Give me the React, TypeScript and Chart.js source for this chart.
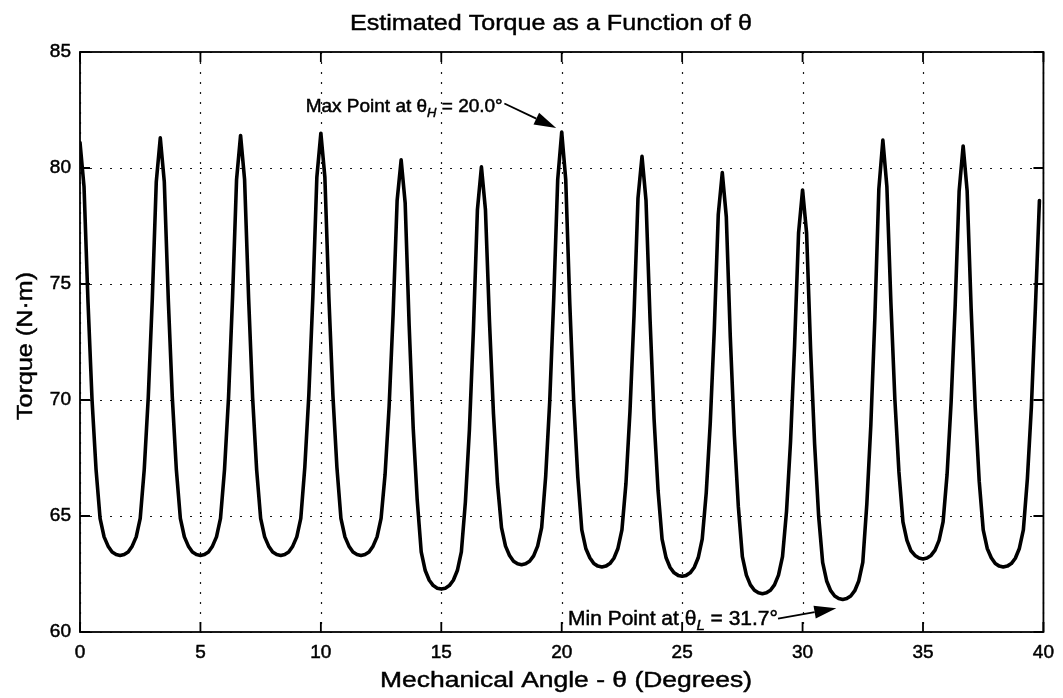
import React, { useEffect, useRef } from "react";
import { Chart, registerables } from "chart.js";

Chart.register(...registerables);

// ---------------- DATA ----------------
// Samples are taken every 1/6 degree of mechanical angle, starting at 0°.
const ANGLE_STEP_DEG = 1 / 6;

// Torque (N·m), one array per electrical period (20 samples each)
const torquePeriod01 = [81.1, 79.2, 74.2, 70.0, 67.0, 64.9, 64.1, 63.7, 63.45, 63.34, 63.3, 63.34, 63.45, 63.7, 64.1, 64.9, 67.0, 70.1, 74.3, 79.4];
const torquePeriod02 = [81.3, 79.4, 74.3, 70.1, 67.0, 64.9, 64.1, 63.7, 63.45, 63.34, 63.3, 63.34, 63.45, 63.7, 64.1, 64.9, 67.0, 70.1, 74.4, 79.5];
const torquePeriod03 = [81.4, 79.5, 74.4, 70.1, 67.0, 64.9, 64.1, 63.7, 63.45, 63.34, 63.3, 63.34, 63.45, 63.7, 64.1, 64.9, 67.1, 70.2, 74.4, 79.6];
const torquePeriod04 = [81.5, 79.6, 74.4, 70.2, 67.1, 64.9, 64.1, 63.7, 63.45, 63.34, 63.3, 63.34, 63.45, 63.7, 64.1, 64.9, 66.8, 69.7, 73.7, 78.6];
const torquePeriod05 = [80.35, 78.5, 73.2, 68.8, 65.7, 63.45, 62.65, 62.23, 62.0, 61.89, 61.85, 61.89, 62.0, 62.23, 62.65, 63.45, 65.6, 68.7, 73.0, 78.2];
const torquePeriod06 = [80.05, 78.2, 73.4, 69.4, 66.4, 64.5, 63.7, 63.3, 63.05, 62.94, 62.9, 62.94, 63.05, 63.28, 63.7, 64.5, 66.7, 69.9, 74.3, 79.5];
const torquePeriod07 = [81.55, 79.5, 74.2, 69.9, 66.7, 64.4, 63.6, 63.2, 62.95, 62.84, 62.8, 62.84, 62.95, 63.18, 63.6, 64.4, 66.4, 69.5, 73.6, 78.7];
const torquePeriod08 = [80.5, 78.6, 73.5, 69.2, 66.1, 64.0, 63.2, 62.78, 62.55, 62.44, 62.4, 62.44, 62.55, 62.78, 63.2, 64.0, 66.0, 69.0, 73.0, 78.0];
const torquePeriod09 = [79.8, 77.9, 72.7, 68.5, 65.4, 63.25, 62.45, 62.03, 61.8, 61.69, 61.65, 61.69, 61.8, 62.03, 62.45, 63.25, 65.2, 68.2, 72.3, 77.2];
const torquePeriod10 = [79.05, 77.2, 72.2, 68.1, 65.0, 63.0, 62.2, 61.78, 61.55, 61.44, 61.4, 61.44, 61.55, 61.78, 62.2, 63.0, 65.5, 68.9, 73.5, 79.1];
const torquePeriod11 = [81.2, 79.2, 74.2, 70.0, 66.9, 64.75, 63.95, 63.5, 63.3, 63.19, 63.15, 63.19, 63.3, 63.53, 63.95, 64.75, 66.8, 69.9, 74.0, 79.0];
const torquePeriod12 = [80.95, 79.0, 73.9, 69.7, 66.5, 64.4, 63.6, 63.2, 62.95, 62.84, 62.8, 62.84, 62.95, 63.18, 63.6, 64.4, 66.6, 69.7, 74.0, 78.6];

const torqueValues = [
  ...torquePeriod01, ...torquePeriod02, ...torquePeriod03, ...torquePeriod04,
  ...torquePeriod05, ...torquePeriod06, ...torquePeriod07, ...torquePeriod08,
  ...torquePeriod09, ...torquePeriod10, ...torquePeriod11, ...torquePeriod12,
];

const angleTicks = [0, 5, 10, 15, 20, 25, 30, 35, 40];
const torqueTicks = [60, 65, 70, 75, 80, 85];

const TITLE = "Estimated Torque as a Function of θ";
const X_TITLE = "Mechanical Angle - θ (Degrees)";
const Y_TITLE = "Torque (N·m)";

// annotation anchors, in data coordinates
const maxNote = { text: { x: 17.55, y: 82.4 }, tail: { x: 17.62, y: 82.78 }, tip: { x: 19.77, y: 81.72 } };
const minNote = { text: { x: 20.26, y: 60.32 }, tail: { x: 28.98, y: 60.58 }, tip: { x: 31.4, y: 61.02 } };

// ---------------- STYLE ----------------
const FONT = "'Liberation Sans', Arial, Helvetica, sans-serif";
const W = 1063;
const H = 698;

function textStretched(ctx: CanvasRenderingContext2D, text: string, x: number, y: number, targetWidth: number, rotate = 0) {
  const w = ctx.measureText(text).width;
  const s = targetWidth / w;
  ctx.save();
  ctx.translate(x, y);
  if (rotate) ctx.rotate(rotate);
  ctx.scale(s, 1);
  ctx.textAlign = "center";
  ctx.fillText(text, 0, 0);
  ctx.strokeText(text, 0, 0);
  ctx.restore();
}

function drawArrow(ctx: CanvasRenderingContext2D, x0: number, y0: number, x1: number, y1: number) {
  const ang = Math.atan2(y1 - y0, x1 - x0);
  const headLen = 22;
  const headHalf = 6.5;
  const bx = x1 - headLen * Math.cos(ang);
  const by = y1 - headLen * Math.sin(ang);
  ctx.save();
  ctx.strokeStyle = "#000";
  ctx.fillStyle = "#000";
  ctx.lineWidth = 1.8;
  ctx.beginPath();
  ctx.moveTo(x0, y0);
  ctx.lineTo(bx, by);
  ctx.stroke();
  ctx.beginPath();
  ctx.moveTo(x1, y1);
  ctx.lineTo(bx + headHalf * Math.sin(ang), by - headHalf * Math.cos(ang));
  ctx.lineTo(bx - headHalf * Math.sin(ang), by + headHalf * Math.cos(ang));
  ctx.closePath();
  ctx.fill();
  ctx.restore();
}

function drawSubLabel(ctx: CanvasRenderingContext2D, size: number, main: string, sub: string, rest: string, x: number, baseline: number, align: "left" | "right") {
  const mainFont = `${size}px ${FONT}`;
  const subFont = `italic ${Math.round(size * 0.7)}px ${FONT}`;
  ctx.save();
  ctx.fillStyle = "#000";
  ctx.strokeStyle = "#000";
  ctx.lineWidth = 0.5;
  ctx.textAlign = "left";
  ctx.textBaseline = "alphabetic";
  ctx.font = mainFont;
  const w1 = ctx.measureText(main).width;
  const w3 = ctx.measureText(rest).width;
  ctx.font = subFont;
  const w2 = ctx.measureText(sub).width;
  const total = w1 + w2 + w3;
  const start = align === "right" ? x - total : x;
  const put = (t: string, px: number, py: number) => {
    ctx.fillText(t, px, py);
    ctx.strokeText(t, px, py);
  };
  ctx.font = mainFont;
  put(main, start, baseline);
  ctx.font = subFont;
  put(sub, start + w1, baseline + 5);
  ctx.font = mainFont;
  put(rest, start + w1 + w2, baseline);
  ctx.restore();
}

const gridPlugin = {
  id: "matlabGrid",
  beforeDatasetsDraw(chart: any) {
    const { ctx, chartArea: a, scales } = chart;
    const x = scales.x;
    const y = scales.y;
    ctx.save();
    ctx.strokeStyle = "#1a1a1a";
    ctx.lineWidth = 1.2;
    ctx.setLineDash([2, 8]);
    for (const v of angleTicks) {
      const px = Math.round(x.getPixelForValue(v)) + 0.5;
      ctx.beginPath();
      ctx.moveTo(px, a.top);
      ctx.lineTo(px, a.bottom);
      ctx.stroke();
    }
    for (const v of torqueTicks) {
      const py = Math.round(y.getPixelForValue(v)) + 0.5;
      ctx.beginPath();
      ctx.moveTo(a.left, py);
      ctx.lineTo(a.right, py);
      ctx.stroke();
    }
    ctx.restore();
  },
  afterDatasetsDraw(chart: any) {
    const { ctx, chartArea: a, scales } = chart;
    const x = scales.x;
    const y = scales.y;
    const tl = 10;
    ctx.save();
    ctx.strokeStyle = "#000";
    ctx.lineWidth = 1.8;
    ctx.setLineDash([]);
    ctx.strokeRect(a.left, a.top, a.right - a.left, a.bottom - a.top);
    ctx.beginPath();
    for (const v of angleTicks) {
      const px = x.getPixelForValue(v);
      ctx.moveTo(px, a.bottom);
      ctx.lineTo(px, a.bottom - tl);
      ctx.moveTo(px, a.top);
      ctx.lineTo(px, a.top + tl);
    }
    for (const v of torqueTicks) {
      const py = y.getPixelForValue(v);
      ctx.moveTo(a.left, py);
      ctx.lineTo(a.left + tl, py);
      ctx.moveTo(a.right, py);
      ctx.lineTo(a.right - tl, py);
    }
    ctx.stroke();
    ctx.restore();
  },
};

const textPlugin = {
  id: "textLayer",
  afterDraw(chart: any) {
    const { ctx, scales } = chart;
    const x = scales.x;
    const y = scales.y;
    ctx.save();
    ctx.fillStyle = "#000";
    ctx.strokeStyle = "#000";
    ctx.lineWidth = 0.45;
    ctx.textBaseline = "alphabetic";

    ctx.font = `22px ${FONT}`;
    textStretched(ctx, TITLE, 551, 30, 402);
    textStretched(ctx, X_TITLE, 566, 687, 372);
    textStretched(ctx, Y_TITLE, 32, 346, 148, -Math.PI / 2);

    // max / min annotations derived from the series
    let iMax = 0;
    let iMin = 0;
    torqueValues.forEach((v, i) => {
      if (v > torqueValues[iMax]) iMax = i;
      if (v < torqueValues[iMin]) iMin = i;
    });
    const maxAngle = (iMax * ANGLE_STEP_DEG).toFixed(1);
    const minAngle = (iMin * ANGLE_STEP_DEG).toFixed(1);

    drawSubLabel(ctx, 19, "Max Point at θ", "H", ` = ${maxAngle}°`, x.getPixelForValue(maxNote.text.x), y.getPixelForValue(maxNote.text.y), "right");
    drawArrow(ctx, x.getPixelForValue(maxNote.tail.x), y.getPixelForValue(maxNote.tail.y), x.getPixelForValue(maxNote.tip.x), y.getPixelForValue(maxNote.tip.y));

    drawSubLabel(ctx, 21, "Min Point at θ", "L", ` = ${minAngle}°`, x.getPixelForValue(minNote.text.x), y.getPixelForValue(minNote.text.y), "left");
    drawArrow(ctx, x.getPixelForValue(minNote.tail.x), y.getPixelForValue(minNote.tail.y), x.getPixelForValue(minNote.tip.x), y.getPixelForValue(minNote.tip.y));
    ctx.restore();
  },
};

export default function App() {
  const canvasRef = useRef<HTMLCanvasElement | null>(null);

  useEffect(() => {
    const canvas = canvasRef.current;
    if (!canvas) return;
    const points = torqueValues.map((v, i) => ({ x: i * ANGLE_STEP_DEG, y: v }));
    const chart = new Chart(canvas, {
      type: "line",
      data: {
        datasets: [
          {
            data: points,
            borderColor: "#000",
            borderWidth: 3.6,
            pointRadius: 0,
            tension: 0,
            borderJoinStyle: "round",
            borderCapStyle: "round",
            fill: false,
          },
        ],
      },
      options: {
        responsive: false,
        animation: false,
        layout: { padding: { top: 52, right: 15, bottom: 0, left: 0 } },
        plugins: {
          legend: { display: false },
          tooltip: { enabled: false },
          title: { display: false },
        },
        scales: {
          x: {
            type: "linear",
            min: 0,
            max: 40,
            afterBuildTicks: (s: any) => {
              s.ticks = angleTicks.map((v) => ({ value: v }));
            },
            afterFit: (s: any) => {
              s.height = 66;
            },
            grid: { display: false, drawTicks: false },
            border: { display: false },
            ticks: {
              padding: 9,
              color: "#000",
              textStrokeColor: "#000",
              textStrokeWidth: 0.5,
              font: { family: FONT, size: 19 },
              maxRotation: 0,
            },
          },
          y: {
            type: "linear",
            min: 60,
            max: 85,
            afterBuildTicks: (s: any) => {
              s.ticks = torqueTicks.map((v) => ({ value: v }));
            },
            afterFit: (s: any) => {
              s.width = 80;
            },
            grid: { display: false, drawTicks: false },
            border: { display: false },
            ticks: {
              padding: 9,
              color: "#000",
              textStrokeColor: "#000",
              textStrokeWidth: 0.5,
              font: { family: FONT, size: 19 },
            },
          },
        },
      },
      plugins: [gridPlugin, textPlugin],
    });
    return () => chart.destroy();
  }, []);

  return (
    <div style={{ position: "fixed", left: 0, top: 0, width: W, height: H, background: "#fff" }}>
      <canvas ref={canvasRef} width={W} height={H} style={{ display: "block" }} />
    </div>
  );
}
